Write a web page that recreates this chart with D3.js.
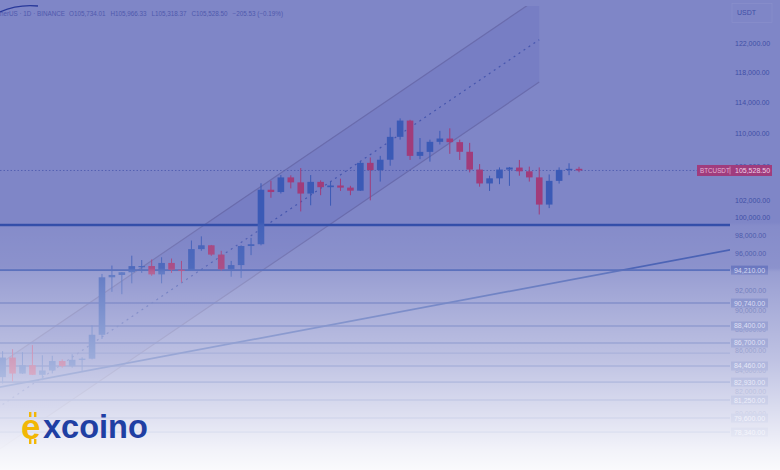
<!DOCTYPE html>
<html><head><meta charset="utf-8">
<script src="https://cdn.jsdelivr.net/npm/d3@7"></script>
<style>html,body{margin:0;padding:0;background:#fff}svg{display:block}</style>
</head><body><svg id="c" width="780" height="470"></svg>
<script>
// ---------- data ----------
const dates = ["2025-04-12","2025-04-13","2025-04-14","2025-04-15","2025-04-16","2025-04-17","2025-04-18","2025-04-19","2025-04-20","2025-04-21",
"2025-04-22","2025-04-23","2025-04-24","2025-04-25","2025-04-26","2025-04-27","2025-04-28","2025-04-29","2025-04-30",
"2025-05-01","2025-05-02","2025-05-03","2025-05-04","2025-05-05","2025-05-06","2025-05-07","2025-05-08","2025-05-09","2025-05-10",
"2025-05-11","2025-05-12","2025-05-13","2025-05-14","2025-05-15","2025-05-16","2025-05-17","2025-05-18","2025-05-19","2025-05-20",
"2025-05-21","2025-05-22","2025-05-23","2025-05-24","2025-05-25","2025-05-26","2025-05-27","2025-05-28","2025-05-29","2025-05-30","2025-05-31",
"2025-06-01","2025-06-02","2025-06-03","2025-06-04","2025-06-05","2025-06-06","2025-06-07","2025-06-08","2025-06-09"];
const opens  = [83400,85280,83740,84540,83620,84030,84940,84450,85060,85170,
87520,93440,93690,93980,94640,94650,93750,94980,94250,
94170,96490,96910,95890,94300,94750,96830,97030,103240,102970,
104700,104110,102790,104170,103540,103740,103490,103130,106450,105570,
106830,109650,111700,107300,107790,109030,109440,108990,107800,105640,103980,
104590,105640,105880,105430,104700,101510,104290,105600,105730];
const highs  = [85900,86100,85800,86500,85500,85450,85100,85600,85300,88460,
93800,94700,94000,95770,95300,95360,95600,95460,95200,
97440,97900,96950,96300,95200,96900,97730,104000,104300,104980,
104950,105820,104980,104350,104200,104550,103700,106650,107110,107300,
110800,111980,111800,109500,109300,110400,110720,109300,108900,106300,104900,
105900,105950,106800,105990,105900,105050,105900,106400,105970];
const lows   = [82800,83000,83700,83600,83100,83750,84300,84300,83950,85100,
87100,91900,91660,92800,93900,93600,92800,93900,92900,
94130,96300,95750,94150,93500,93380,95830,96900,102300,102800,
103400,100720,101430,102600,101380,103100,102600,103100,102000,104200,
106100,109300,106800,106900,106600,108700,107550,106800,105300,103600,103100,
103900,103700,104900,104200,100370,101100,103970,104970,105320];
const closes = [85280,83740,84540,83620,84030,84940,84450,85060,85170,87520,
93440,93690,93980,94640,94650,93750,94980,94250,94170,
96490,96910,95890,94300,94750,96830,97030,103240,102970,104700,
104110,102790,104170,103540,103740,103490,103130,106450,105570,106830,
109650,111700,107300,107790,109030,109440,108990,107800,105640,103980,104590,
105640,105880,105430,104700,101510,104290,105600,105730,105530];

const yTicks = [122000,118000,114000,110000,106000,102000,100000,98000,96000,92000,90000,88000,86000,84000,82000,80000];
const zonePrice = 99170;
const labeledLevels = [94210,90740,88400,86700,84460,82930,81250,79600,78340];
const plainLevels = [85710];
const channelDates = ["2025-04-11","2025-06-05"];
const channelUpper = [84200,128530];
const channelLower = [76420,116710];
const trendDates = ["2025-04-11","2025-06-25"];
const trendPrices = [82330,96570];
const lastPrice = 105528.50;
const symbolLabel = "BTCUSDT";
const headerName = "Bitcoin / TetherUS · 1D · BINANCE";
const headerValues = ["O105,734.01","H105,966.33","L105,318.37","C105,528.50","−205.53 (−0.19%)"];
const currency = "USDT";

// ---------- chart ----------
const svg = d3.select("#c");
const W = 780, H = 470, plotRight = 730;
const parse = d3.utcParse("%Y-%m-%d");
const x = d3.scaleUtc().domain([parse(dates[0]), parse(dates[dates.length-1])]).range([2.6, 579]);
const y = d3.scaleLog().domain([78000,125000]).range([435.9,21.8]);
const fmt = d3.format(",.2f");

const defs = svg.append("defs");
defs.append("clipPath").attr("id","plot").append("rect").attr("x",0).attr("y",6).attr("width",plotRight).attr("height",H);
const g = defs.append("linearGradient").attr("id","fade").attr("gradientUnits","userSpaceOnUse")
  .attr("x1",0).attr("y1",0).attr("x2",0).attr("y2",H);
[[0,0],[222,0],[226,0.05],[268,0.1],[272,0.2],[300,0.3],[360,0.5],[410,0.72],[450,0.9],[470,0.96]]
  .forEach(([py,o])=>g.append("stop").attr("offset",py/H).attr("stop-color","#ffffff").attr("stop-opacity",o));

svg.append("rect").attr("width",W).attr("height",H).attr("fill","#7f86c7");

const plot = svg.append("g").attr("clip-path","url(#plot)");

// channel
const cx0 = x(parse(channelDates[0])), cx1 = x(parse(channelDates[1]));
plot.append("path")
  .attr("d",`M${cx0},${y(channelUpper[0])}L${cx1},${y(channelUpper[1])}L${cx1},${y(channelLower[1])}L${cx0},${y(channelLower[0])}Z`)
  .attr("fill","rgba(45,55,165,0.09)");
[channelUpper,channelLower].forEach(p=>{
  plot.append("line").attr("x1",cx0).attr("y1",y(p[0])).attr("x2",cx1).attr("y2",y(p[1]))
    .attr("stroke","#6a6cad").attr("stroke-width",1.2);
});
plot.append("line").attr("x1",cx0).attr("y1",y(Math.sqrt(channelUpper[0]*channelLower[0])))
  .attr("x2",cx1).attr("y2",y(Math.sqrt(channelUpper[1]*channelLower[1])))
  .attr("stroke","#4656ae").attr("stroke-width",1.2).attr("stroke-dasharray","2,4");

// horizontal levels
plot.append("line").attr("x1",0).attr("x2",plotRight).attr("y1",y(zonePrice)).attr("y2",y(zonePrice))
  .attr("stroke","#2c48a6").attr("stroke-width",2.6);
labeledLevels.forEach((p,i)=>{
  plot.append("line").attr("x1",0).attr("x2",plotRight).attr("y1",y(p)).attr("y2",y(p))
    .attr("stroke",i===0?"#3c56b0":"#4b5db2").attr("stroke-width",i===0?1.8:1.6);
});
plainLevels.forEach(p=>{
  plot.append("line").attr("x1",0).attr("x2",plotRight).attr("y1",y(p)).attr("y2",y(p))
    .attr("stroke","#5565b6").attr("stroke-width",1);
});

// trendline
plot.append("line").attr("x1",x(parse(trendDates[0]))).attr("y1",y(trendPrices[0]))
  .attr("x2",x(parse(trendDates[1]))).attr("y2",y(trendPrices[1]))
  .attr("stroke","#3a54ae").attr("stroke-width",1.7);

// last price line
plot.append("line").attr("x1",0).attr("x2",697).attr("y1",y(lastPrice)).attr("y2",y(lastPrice))
  .attr("stroke","#5661b2").attr("stroke-width",1).attr("stroke-dasharray","1.5,2");

// candles
const bw = 6.6;
const cg = plot.append("g");
dates.forEach((d,i)=>{
  const cx = x(parse(d));
  const up = closes[i] >= opens[i];
  const col = up ? "#3b5ab6" : "#a13c7a";
  cg.append("line").attr("x1",cx).attr("x2",cx).attr("y1",y(highs[i])).attr("y2",y(lows[i]))
    .attr("stroke",col).attr("stroke-width",1);
  const yt = y(Math.max(opens[i],closes[i])), yb = y(Math.min(opens[i],closes[i]));
  cg.append("rect").attr("x",cx-bw/2).attr("y",yt).attr("width",bw).attr("height",Math.max(1.2,yb-yt))
    .attr("fill",col);
});

// right axis ticks
const ax = svg.append("g").attr("font-family","Liberation Sans, Arial, sans-serif").attr("font-size",7);
yTicks.forEach(t=>{
  ax.append("text").attr("x",735).attr("y",y(t)).attr("dy","0.35em").attr("fill","#3f4fa6").text(fmt(t));
});
// level labels
labeledLevels.forEach(p=>{
  ax.append("rect").attr("x",731).attr("y",y(p)-4.5).attr("width",37).attr("height",9).attr("fill","#5b69b9");
  ax.append("text").attr("x",749.5).attr("y",y(p)).attr("dy","0.35em").attr("text-anchor","middle")
    .attr("fill","#c9cdee").text(fmt(p));
});
// price label
const py = y(lastPrice);
ax.append("rect").attr("x",697).attr("y",py-5.5).attr("width",75).attr("height",11).attr("fill","#a03c7d");
ax.append("text").attr("x",700).attr("y",py).attr("dy","0.35em").attr("fill","#e3b3d6").attr("font-size",6.3).text(symbolLabel);
ax.append("line").attr("x1",730).attr("x2",730).attr("y1",py-4).attr("y2",py+4).attr("stroke","#e3b3d6").attr("stroke-width",0.6);
ax.append("text").attr("x",735).attr("y",py).attr("dy","0.35em").attr("fill","#f0d0e8").text(fmt(lastPrice));
// currency box
ax.append("rect").attr("x",732).attr("y",3.5).attr("width",40).attr("height",19).attr("fill","none")
  .attr("stroke","#8b91cc").attr("stroke-width",0.6);
ax.append("text").attr("x",737).attr("y",15).attr("fill","#3f4fa6").text(currency);

// header
const hd = svg.append("g").attr("font-family","Liberation Sans, Arial, sans-serif").attr("font-size",6.3).attr("fill","#4f59ad");
hd.append("text").attr("x",65).attr("y",16).attr("text-anchor","end").text(headerName);
let hxPos = 69;
headerValues.forEach(v=>{
  const t = hd.append("text").attr("x",hxPos).attr("y",16).text(v);
  hxPos += t.node().getComputedTextLength() + 5;
});
svg.append("path").attr("d","M0,12 Q18,4 38,6").attr("fill","none").attr("stroke","#28389a").attr("stroke-width",1.3);

// fade overlay
svg.append("rect").attr("width",W).attr("height",H).attr("fill","url(#fade)");

// logo
const logo = svg.append("g");
logo.append("text").attr("x",21).attr("y",439).attr("font-family","Liberation Sans, Arial, sans-serif")
  .attr("font-weight","bold").attr("font-size",35).attr("fill","#f2b705").text("e");
[[29,412],[34,412],[29,439],[34,439]].forEach(([a,b])=>
  logo.append("rect").attr("x",a).attr("y",b).attr("width",2.4).attr("height",5).attr("fill","#f2b705"));
logo.append("text").attr("x",43).attr("y",438).attr("font-family","Liberation Sans, Arial, sans-serif")
  .attr("font-weight","bold").attr("font-size",32.5).attr("fill","#1f3fa3").text("xcoino");
</script></body></html>
